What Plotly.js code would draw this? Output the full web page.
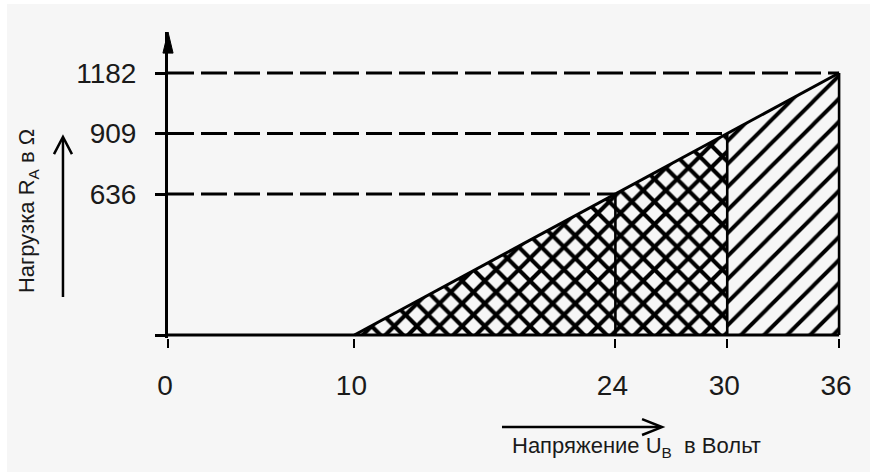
<!DOCTYPE html>
<html>
<head>
<meta charset="utf-8">
<script src="https://cdn.plot.ly/plotly-3.0.1.min.js"></script>
<style>
html, body { margin: 0; padding: 0; background: #ffffff; }
#chart { position: absolute; left: 7px; top: 4px; width: 863px; height: 468px; }
</style>
</head>
<body>
<div id="chart"></div>
<script>
// ---- data ----
const voltage = [10, 24, 30, 36];          // U_B in Volt (points on the load line)
const load = [0, 636, 909, 1182];          // R_A in Ohm at those voltages
const xTickVals = [0, 10, 24, 30, 36];
const xTickText = ['0', '10', '24', '30', '36'];
const yTickVals = [636, 909, 1182];
const yTickText = ['636', '909', '1182'];
const yTitleText = 'Нагрузка R<sub>A</sub> в Ω';
const xTitleText = 'Напряжение U<sub>В</sub>  в Вольт';

const FONT = "'Liberation Sans', Arial, Helvetica, sans-serif";
const BG = '#f6f6f6';
const traces = [];

// crosshatched region: from start of load line to 30 V
traces.push({
  type: 'scatter', mode: 'lines',
  x: [voltage[0], voltage[1], voltage[2], voltage[2], voltage[0]],
  y: [load[0], load[1], load[2], 0, load[0]],
  fill: 'toself', fillcolor: BG,
  fillpattern: { shape: 'x', size: 16, solidity: 0.45, fgcolor: '#000000', bgcolor: BG },
  line: { width: 0, color: 'rgba(0,0,0,0)' },
  hoverinfo: 'skip', showlegend: false
});
// single hatched region: 30 V to 36 V
traces.push({
  type: 'scatter', mode: 'lines',
  x: [voltage[2], voltage[2], voltage[3], voltage[3], voltage[2]],
  y: [0, load[2], load[3], 0, 0],
  fill: 'toself', fillcolor: BG,
  fillpattern: { shape: '/', size: 16.3, solidity: 0.24, fgcolor: '#000000', bgcolor: BG },
  line: { width: 0, color: 'rgba(0,0,0,0)' },
  hoverinfo: 'skip', showlegend: false
});
// dashed reference lines and verticals
for (let i = 1; i < voltage.length; i++) {
  traces.push({
    type: 'scatter', mode: 'lines',
    x: [0, voltage[i]], y: [load[i], load[i]],
    line: { color: '#000000', width: 3, dash: '26px,7px' },
    hoverinfo: 'skip', showlegend: false
  });
  traces.push({
    type: 'scatter', mode: 'lines',
    x: [voltage[i], voltage[i]], y: [0, load[i]],
    line: { color: '#000000', width: 2.6 },
    hoverinfo: 'skip', showlegend: false
  });
}
// x axis baseline
traces.push({
  type: 'scatter', mode: 'lines',
  x: [xTickVals[0], voltage[voltage.length - 1]], y: [0, 0],
  line: { color: '#000000', width: 3 },
  hoverinfo: 'skip', showlegend: false
});
// load line
traces.push({
  type: 'scatter', mode: 'lines',
  x: voltage, y: load,
  line: { color: '#000000', width: 3 },
  hoverinfo: 'skip', showlegend: false
});

const layout = {
  width: 863, height: 468,
  margin: { l: 161, r: 27, t: 28, b: 134, pad: 0 },
  paper_bgcolor: BG, plot_bgcolor: BG,
  font: { family: FONT, color: '#1a1a1a' },
  showlegend: false,
  xaxis: {
    range: [0, 36.21], fixedrange: true,
    showgrid: false, zeroline: false, showline: false,
    tickmode: 'array', tickvals: xTickVals, ticktext: xTickText,
    ticks: 'outside', ticklen: 9, tickwidth: 2, tickcolor: '#000000',
    tickfont: { family: FONT, size: 28, color: '#1a1a1a' },
    ticklabelstandoff: 13, ticklabelshift: -3
  },
  yaxis: {
    range: [-13.5, 1367], fixedrange: true,
    showgrid: false, zeroline: false,
    showline: true, linecolor: '#000000', linewidth: 3,
    tickmode: 'array', tickvals: yTickVals, ticktext: yTickText,
    ticks: 'outside', ticklen: 10, tickwidth: 3, tickcolor: '#000000',
    tickfont: { family: FONT, size: 28, color: '#1a1a1a' },
    ticklabelstandoff: 13,
    minor: { tickmode: 'array', tickvals: [0], ticks: 'outside', ticklen: 10,
             tickwidth: 3, tickcolor: '#000000', showgrid: false }
  },
  shapes: [
    // filled arrowhead on top of the y axis
    { type: 'path', xref: 'paper', yref: 'paper',
      path: 'M 0,1 L -0.0075,0.931 L 0.0075,0.931 Z',
      fillcolor: '#000000', line: { color: '#000000', width: 1 } },
    // arrow beside the y title
    { type: 'line', xref: 'paper', yref: 'paper',
      x0: -0.1556, y0: 0.134, x1: -0.1556, y1: 0.652,
      line: { color: '#000000', width: 2.5 } },
    { type: 'path', xref: 'paper', yref: 'paper',
      path: 'M -0.1689,0.601 L -0.1556,0.657 L -0.1423,0.601',
      line: { color: '#000000', width: 2.5 } },
    // arrow above the x title
    { type: 'line', xref: 'paper', yref: 'paper',
      x0: 0.4948, y0: -0.291, x1: 0.728, y1: -0.291,
      line: { color: '#000000', width: 2.5 } },
    { type: 'path', xref: 'paper', yref: 'paper',
      path: 'M 0.7023,-0.2649 L 0.7319,-0.291 L 0.7023,-0.3171',
      line: { color: '#000000', width: 2.5 } }
  ],
  annotations: [
    { xref: 'paper', yref: 'paper', x: -0.2074, y: 0.415, text: yTitleText,
      textangle: -90, showarrow: false, xanchor: 'center', yanchor: 'middle',
      font: { family: FONT, size: 22, color: '#1a1a1a' } },
    { xref: 'paper', yref: 'paper', x: 0.6948, y: -0.356, text: xTitleText,
      showarrow: false, xanchor: 'center', yanchor: 'middle',
      font: { family: FONT, size: 22, color: '#1a1a1a' } }
  ]
};

Plotly.newPlot('chart', traces, layout, { displayModeBar: false, staticPlot: true });
</script>
</body>
</html>
